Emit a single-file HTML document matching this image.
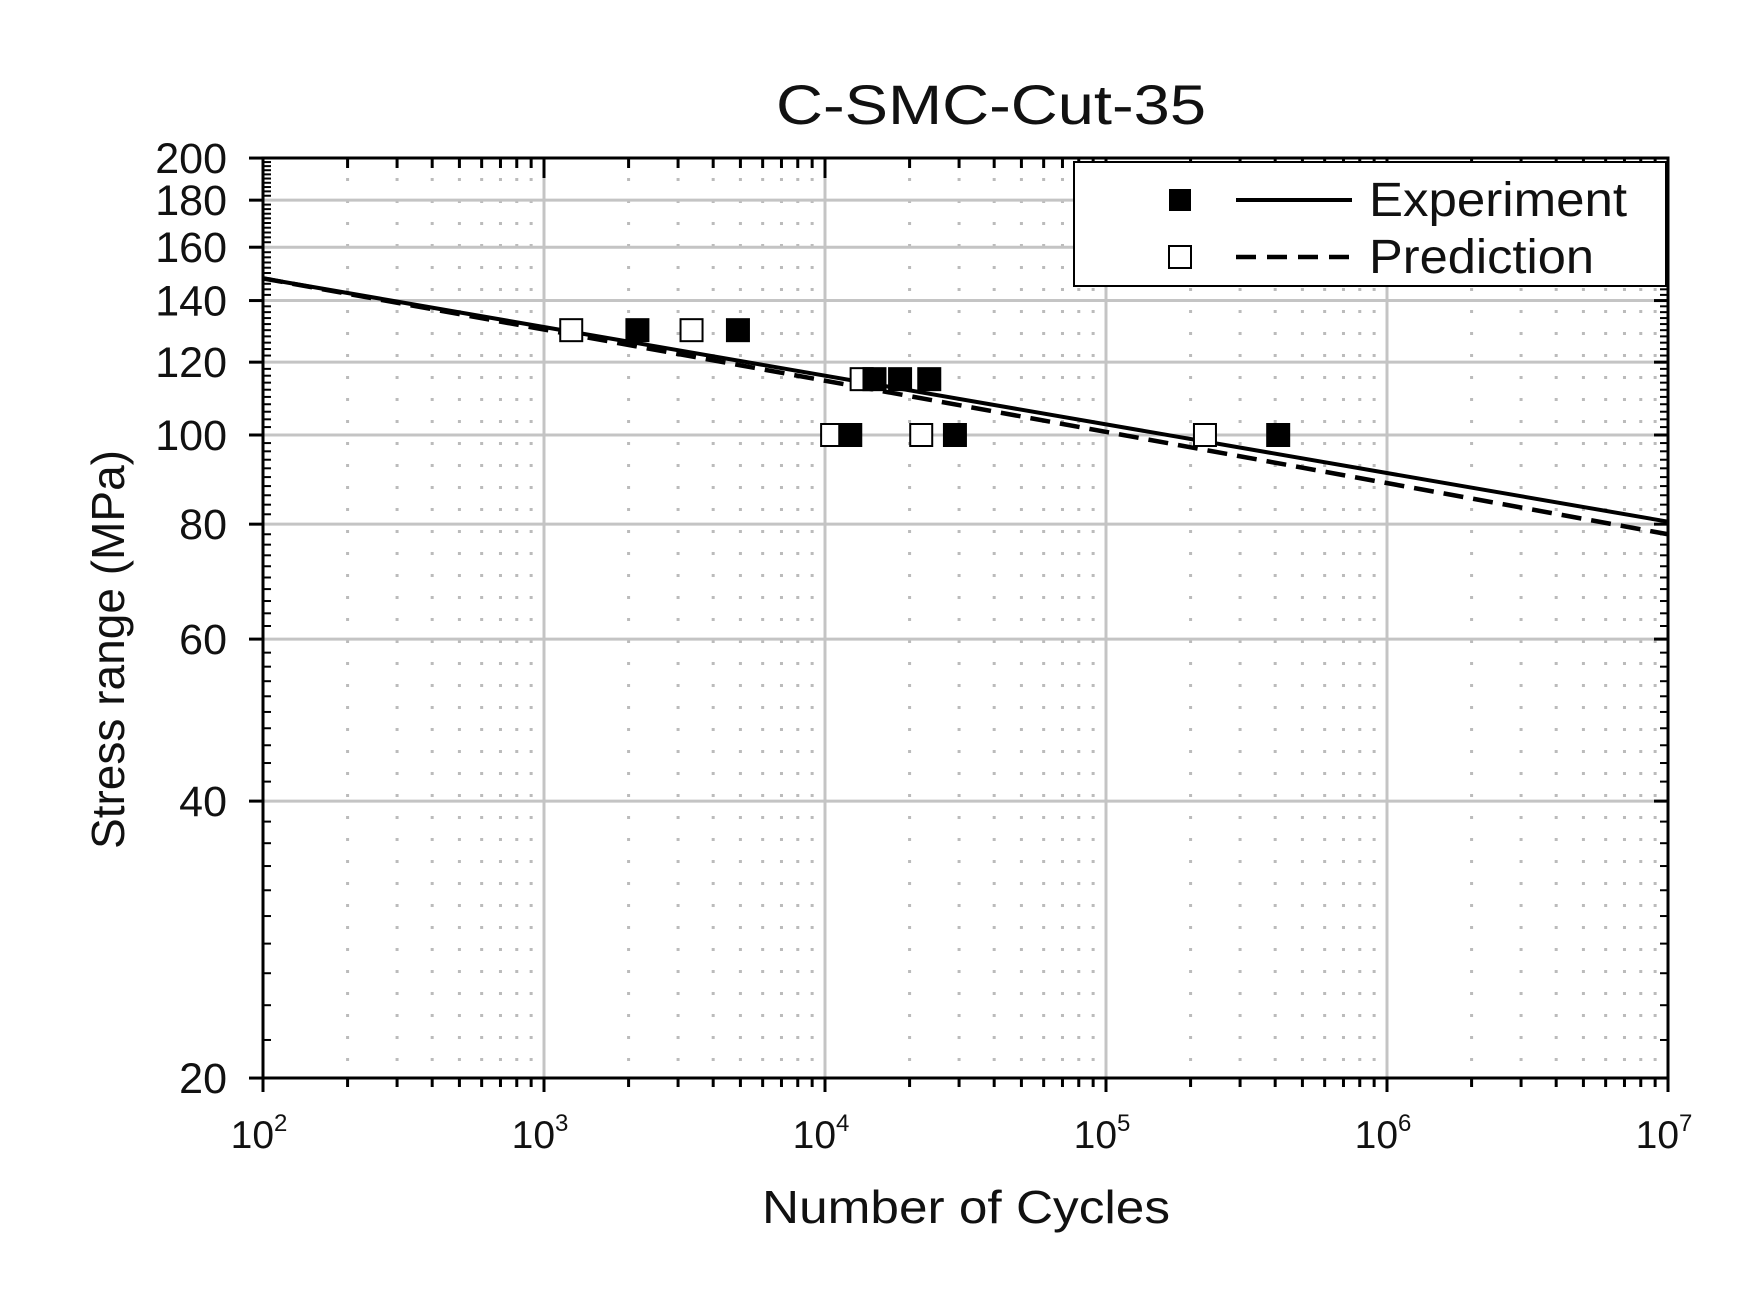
<!DOCTYPE html>
<html><head><meta charset="utf-8"><style>
html,body{margin:0;padding:0;background:#fff}
svg text{font-family:"Liberation Sans",Arial,sans-serif;fill:#111}
</style></head><body>
<svg id="s" width="1752" height="1297" xmlns="http://www.w3.org/2000/svg"></svg>
<script>
(function(){
const s=document.getElementById('s');
const X=n=>263+281*(Math.log10(n)-2);
const Y=v=>435-920*Math.log10(v/100);
let h='';
const L=(x1,y1,x2,y2,st)=>{h+=`<line x1="${x1}" y1="${y1}" x2="${x2}" y2="${y2}" ${st}/>`;};
const pt=158,pb=1078,pl=263,pr=1668;
for(let d=2;d<7;d++)for(let k=2;k<10;k++){const x=X(k*10**d);L(x,pt+20,x,pb,'stroke="#bbb" stroke-width="3" stroke-dasharray="3,19"');}
for(let d=3;d<7;d++){const x=X(10**d);L(x,pt,x,pb,'stroke="#c4c4c4" stroke-width="3"');}
[40,60,80,100,120,140,160,180].forEach(v=>{const y=Y(v);L(pl,y,pr,y,'stroke="#c4c4c4" stroke-width="3"');});
h+=`<rect x="${pl}" y="${pt}" width="${pr-pl}" height="${pb-pt}" fill="none" stroke="#000" stroke-width="3"/>`;
for(let v=20;v<=200;v+=2){const y=Y(v);const maj=v%20==0;L(pl,y,pl+(maj?0:8),y,'stroke="#000" stroke-width="2"');L(pr,y,pr-8,y,'stroke="#000" stroke-width="2"');}
[20,40,60,80,100,120,140,160,180,200].forEach(v=>{const y=Y(v);L(pl-14,y,pl,y,'stroke="#000" stroke-width="3"');L(pr,y,pr-14,y,'stroke="#000" stroke-width="3"');
h+=`<text x="${pl-36}" y="${y+15}" font-size="43" text-anchor="end">${v}</text>`;});
for(let d=2;d<7;d++)for(let k=1;k<10;k++){const x=X(k*10**d);const m=k==1;
L(x,pb,x,pb+(m?14:9),'stroke="#000" stroke-width="3"');L(x,pt,x,pt+(m?20:10),'stroke="#000" stroke-width="3"');}
L(pr,pb,pr,pb+14,'stroke="#000" stroke-width="3"');
for(let d=2;d<=7;d++){const x=X(10**d);h+=`<text x="${x-4}" y="${pb+70}" font-size="39" text-anchor="middle">10<tspan font-size="24" dy="-17">${d}</tspan></text>`;}
const line=(a,b,st)=>{L(X(100),Y(a),X(1e7),Y(b),st);};
line(148,78,'stroke="#000" stroke-width="4.5" stroke-dasharray="20,10"');
line(148,80.5,'stroke="#000" stroke-width="4"');
const sq=(n,v,f)=>{h+=`<rect x="${X(n)-11}" y="${Y(v)-11}" width="22" height="22" fill="${f?'#000':'#fff'}" stroke="#000" stroke-width="2"/>`;};
[[1250,130],[3350,130],[13500,115],[10600,100],[22000,100],[225000,100]].forEach(p=>sq(p[0],p[1],0));
[[2150,130],[4900,130],[15000,115],[18500,115],[23500,115],[12300,100],[29000,100],[410000,100]].forEach(p=>sq(p[0],p[1],1));
h+=`<rect x="1074" y="162" width="592" height="124" fill="#fff" stroke="#000" stroke-width="2"/>`;
h+=`<rect x="1169" y="189" width="22" height="22" fill="#000"/>`;
h+=`<rect x="1169" y="246" width="22" height="22" fill="#fff" stroke="#000" stroke-width="2"/>`;
L(1236,200,1352,200,'stroke="#000" stroke-width="4"');
L(1236,257,1352,257,'stroke="#000" stroke-width="4.5" stroke-dasharray="20,11"');
h+=`<text x="1369" y="216" font-size="48" textLength="258" lengthAdjust="spacingAndGlyphs">Experiment</text>`;
h+=`<text x="1369" y="273" font-size="48" textLength="225" lengthAdjust="spacingAndGlyphs">Prediction</text>`;
h+=`<text x="776" y="124" font-size="56" textLength="430" lengthAdjust="spacingAndGlyphs">C-SMC-Cut-35</text>`;
h+=`<text x="762" y="1223" font-size="46" textLength="408" lengthAdjust="spacingAndGlyphs">Number of Cycles</text>`;
h+=`<text transform="translate(124,849) rotate(-90)" font-size="46" textLength="399" lengthAdjust="spacingAndGlyphs">Stress range (MPa)</text>`;
s.innerHTML=h;
})();
</script>
</body></html>
